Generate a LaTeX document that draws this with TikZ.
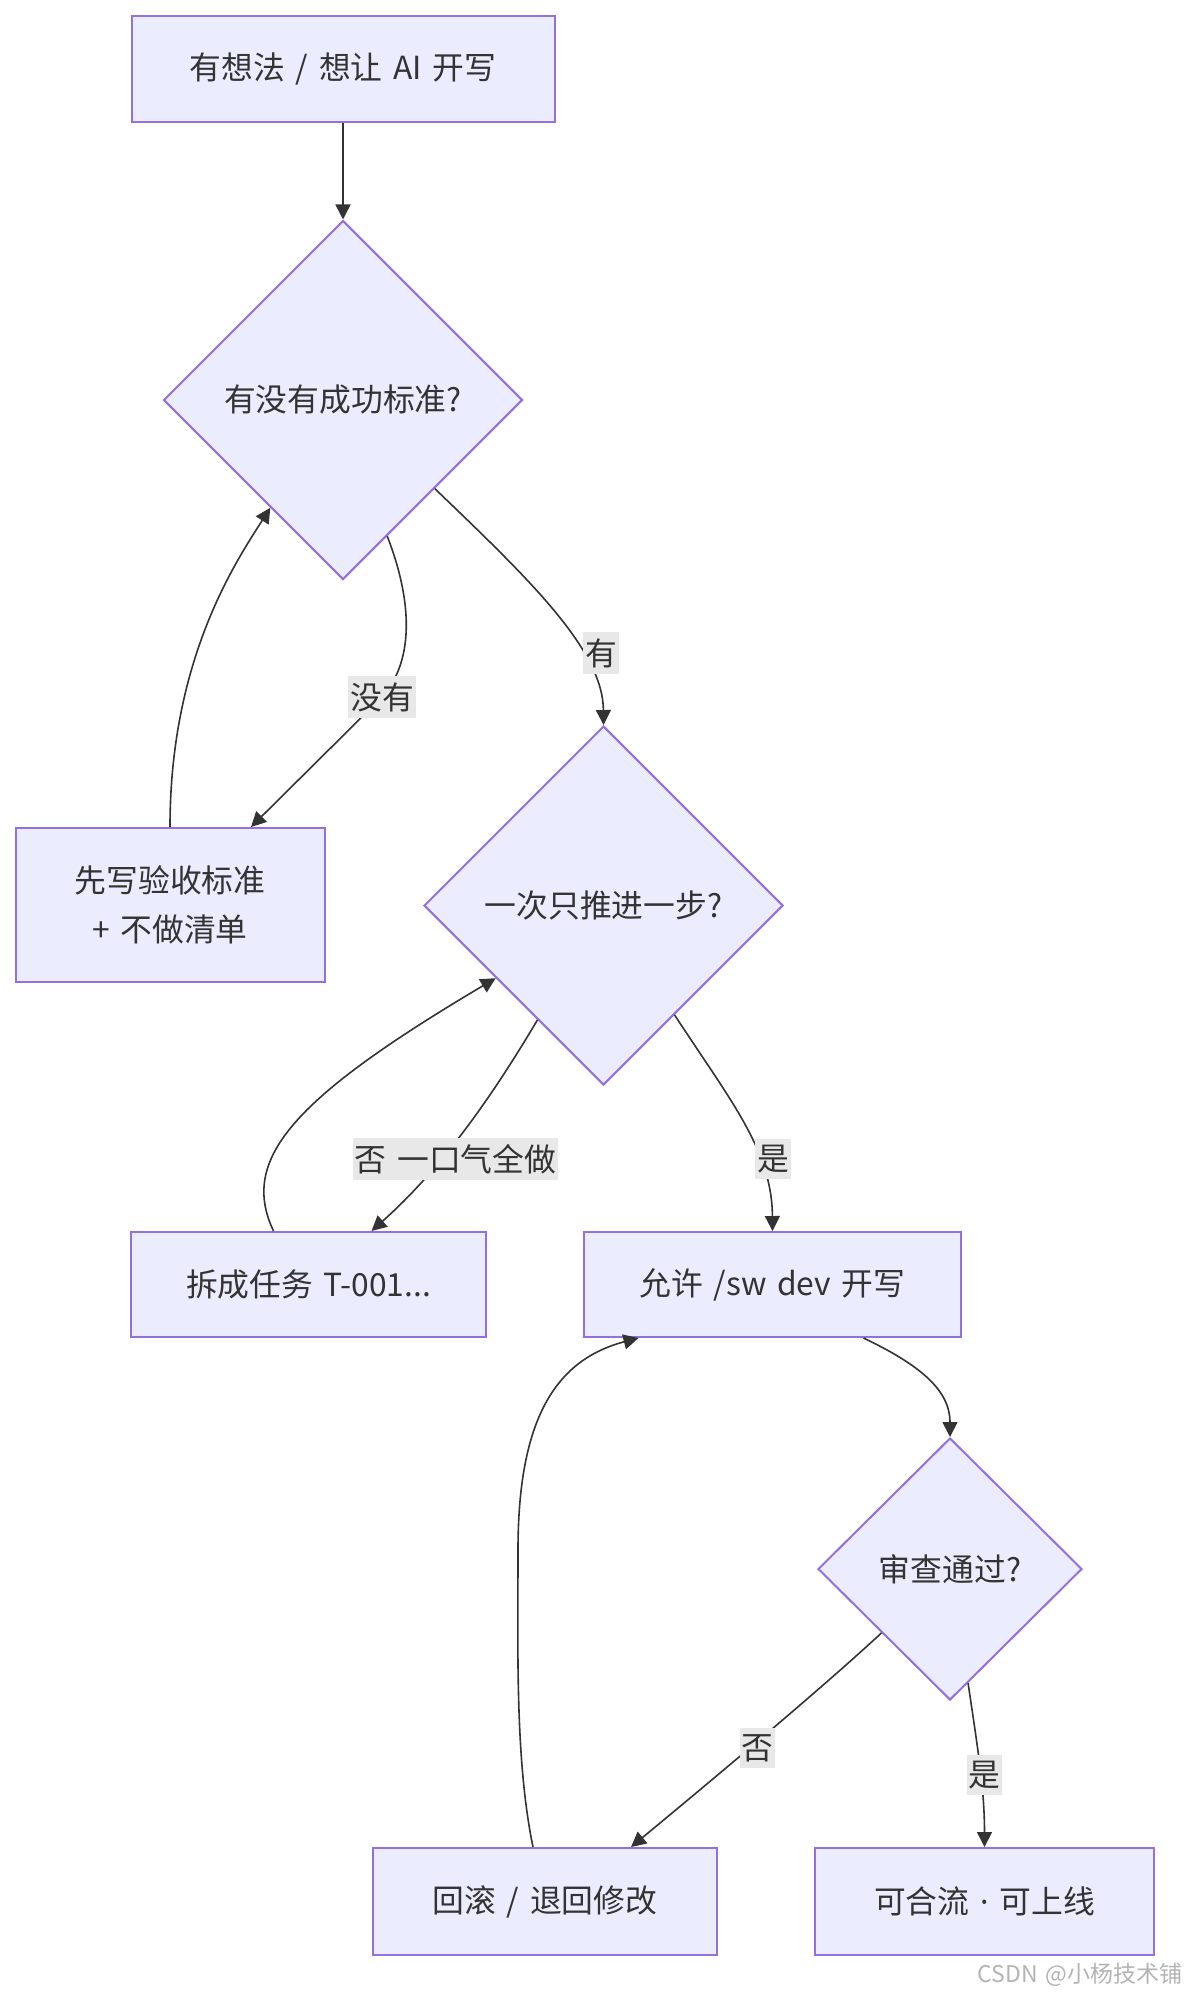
\documentclass[tikz,border=0pt]{standalone}
\usepackage{fontspec}
\setmainfont[WordSpace=1.5]{Noto Sans CJK SC}
\newfontfamily\dotfont{Noto Sans}
\usepackage{tikz}
\usetikzlibrary{arrows.meta,shapes.geometric,calc}
\usepackage{xcolor}
\definecolor{boxfill}{HTML}{ECECFF}
\definecolor{boxline}{HTML}{9370DB}
\definecolor{edgegray}{HTML}{333333}
\definecolor{lblfill}{HTML}{E8E8E8}
\definecolor{textgray}{HTML}{333333}
\definecolor{markgray}{HTML}{B4B4B4}

\begin{document}
\begin{tikzpicture}[x=0.5pt,y=-0.5pt,
	font=\fontsize{15.9pt}{24.5pt}\selectfont,text=textgray,
	proc/.style={draw=boxline,fill=boxfill,line width=1pt,inner sep=0pt,align=center},
	decide/.style={diamond,draw=boxline,fill=boxfill,line width=1pt,inner sep=0pt,aspect=1},
	flow/.style={draw=edgegray,line width=0.8pt,-{Triangle[length=7.5pt,width=7.5pt]}},
	lbl/.style={fill=lblfill,inner xsep=1pt,inner ysep=3pt},
	wmark/.style={text=markgray,font=\fontsize{11.5pt}{13pt}\selectfont,inner sep=0pt}]
						\fill[white] (0,0) rectangle (1186,1996);
						
						\node[proc,minimum width=211.5pt,minimum height=53pt] (idea) at (343,69) {有想法 / 想让 AI 开写};
						\node[decide,minimum width=179.5pt,minimum height=179.5pt] (hascrit) at (343,400) {有没有成功标准?};
						\node[proc,minimum width=154.5pt,minimum height=77pt] (writeacc) at (170,905) {先写验收标准\\+ 不做清单};
						\node[decide,minimum width=179.5pt,minimum height=179.5pt] (onestep) at (603.5,905.5) {一次只推进一步?};
						\node[proc,minimum width=177.5pt,minimum height=52.5pt] (split) at (308.5,1284.5) {拆成任务 T-001...};
						\node[proc,minimum width=188.5pt,minimum height=52.5pt] (allow) at (772.5,1284.5) {允许 /sw dev 开写};
						\node[decide,minimum width=132pt,minimum height=131pt] (review) at (950,1569) {审查通过?};
						\node[proc,minimum width=172pt,minimum height=53.5pt] (rollback) at (545,1901.5) {回滚 / 退回修改};
						\node[proc,minimum width=169.5pt,minimum height=53.5pt] (merge) at (984.5,1901.5) {可合流 {\dotfont ·} 可上线};
						
						\draw[flow] (idea) -- (hascrit);
						\draw[flow] (hascrit.-72) .. controls (412,600) and (415,660) .. (382,697) -- ($(writeacc.north)+(81,0)$);
						\draw[flow] (writeacc.north) .. controls (170,660) and (235,563) .. (hascrit.-124);
						\draw[flow] (hascrit.-44) .. controls (530,580) and (603,650) .. (onestep.north);
						\draw[flow] (onestep.-120) .. controls (490,1100) and (440,1170) .. ($(split.north)+(63,0)$);
						\draw[flow] ($(split.north)+(-35,0)$) .. controls (240,1160) and (290,1100) .. (onestep.-146);
						\draw[flow] (onestep.-57) .. controls (730,1100) and (772,1150) .. (allow.north);
						\draw[flow] ($(allow.south)+(91,0)$) .. controls (920,1365) and (950,1390) .. (review.north);
						\draw[flow] (review.-137) .. controls (820,1690) and (700,1790) .. ($(rollback.north)+(86,0)$);
						\draw[flow] (review.-81) .. controls (978,1750) and (984.5,1790) .. (merge.north);
						\draw[flow] ($(rollback.north)+(-12,0)$) .. controls (515,1760) and (518,1650) .. (518,1550) .. controls (518,1420) and (555,1360) .. ($(allow.south)+(-134,0)$);
						
						\node[lbl] (lnone) at (382,697) {没有};
						\node[lbl] (lhave) at (601,653) {有};
						\node[lbl] (lstepno) at (455.5,1159) {否 一口气全做};
						\node[lbl] (lstepyes) at (773,1159) {是};
						\node[lbl] (lreviewno) at (757.5,1748) {否};
						\node[lbl] (lreviewyes) at (984.5,1775) {是};
						
						\node[wmark,anchor=east] (mark) at (1183,1975) {CSDN @小杨技术铺};
						
					\end{tikzpicture}
\end{document}
